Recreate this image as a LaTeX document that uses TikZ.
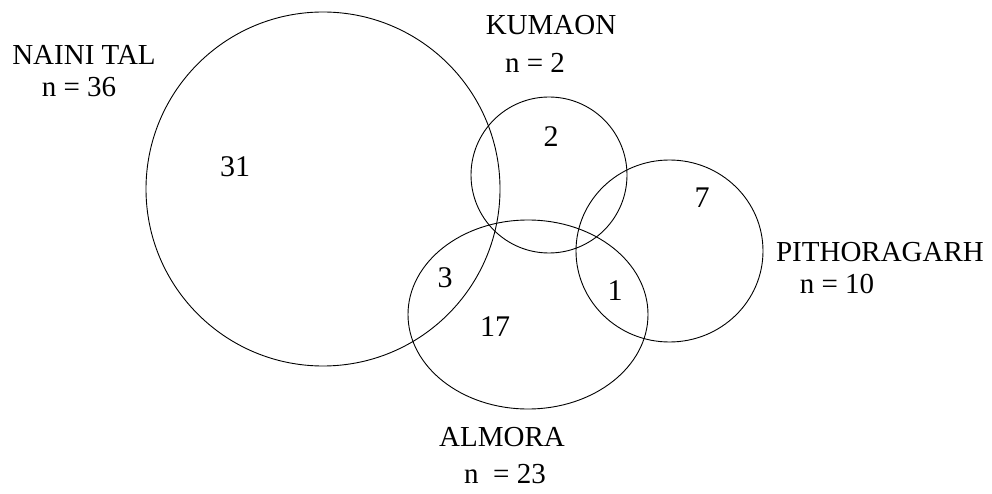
\documentclass[tikz,border=0pt]{standalone}
\usepackage{fontspec}
\setmainfont{Liberation Serif}
\begin{document}
\begin{tikzpicture}[x=1pt,y=1pt,
  setline/.style={line width=0.9pt, black},
  setname/.style={anchor=base, inner sep=0pt, font=\fontsize{29}{32}\selectfont},
  count/.style={anchor=center, inner sep=0pt, font=\fontsize{30}{33}\selectfont}]
\useasboundingbox (0,0) rectangle (992,493);

% the four district sets
\draw[setline] (323,304) ellipse [x radius=177, y radius=177];
\draw[setline] (549,318) ellipse [x radius=78, y radius=78];
\draw[setline] (669.5,242) ellipse [x radius=93.5, y radius=91];
\draw[setline] (528,178.5) ellipse [x radius=120, y radius=94.5];

% set names and sizes
\node[setname] (naini) at (84,428) {NAINI TAL};
\node[setname] (nainin) at (79,396) {n = 36};
\node[setname] (kumaon) at (551,458) {KUMAON};
\node[setname] (kumaonn) at (535,420) {n = 2};
\node[setname] (pith) at (880,232) {PITHORAGARH};
\node[setname] (pithn) at (837,200) {n = 10};
\node[setname] (almora) at (502,47) {ALMORA};
\node[setname] (almoran) at (505,10) {n\ \ = 23};

% region counts
\node[count] (c31) at (235,326) {31};
\node[count] (c3) at (445,215) {3};
\node[count] (c17) at (495,166) {17};
\node[count] (c2) at (551,356) {2};
\node[count] (c7) at (702,295) {7};
\node[count] (c1) at (615,202) {1};
\end{tikzpicture}
\end{document}
